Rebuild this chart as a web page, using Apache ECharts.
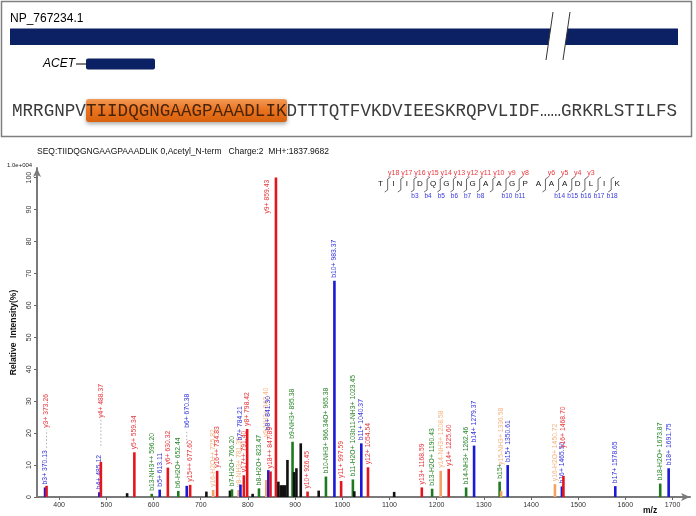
<!DOCTYPE html>
<html><head><meta charset="utf-8">
<script src="https://cdn.jsdelivr.net/npm/echarts@6/dist/echarts.min.js"></script>
<style>html,body{margin:0;padding:0;background:#fff}#c{width:696px;height:516px}</style>
</head><body><div id="c"></div>
<script>
// ---------- data ----------
const proteinId = 'NP_767234.1';
const seqBefore = 'MRRGNPV';
const seqPeptide = 'TIIDQGNGAAGPAAADLIK';
const seqAfter = 'DTTTQTFVKDVIEESKRQPVLIDF\u2026\u2026GRKRLSTILFS';
const seqHeader = 'SEQ:TIIDQGNGAAGPAAADLIK 0,Acetyl_N-term   Charge:2  MH+:1837.9682';
const yIonsSeen = [18,17,16,15,14,13,12,11,10,9,8,6,5,4,3];
const bIonsSeen = [3,4,5,6,7,8,10,11,14,15,16,17,18];

const xTicks = [400,500,600,700,800,900,1000,1100,1200,1300,1400,1500,1600,1700];
const yTicks = [0,10,20,30,40,50,60,70,80,90,100];

const peakMz = [370.13,373.26,485.12,488.37,544,559.34,596.20,613.11,630.32,652.44,670.38,677.60,712,
  726.3,734.83,762,766.20,780.4,784.21,791.40,798.42,810,823.47,839,843.3,847.89,859.43,
  864.6,869.6,874,879,883.8,894.6,897.9,902.8,912,926.45,950,965.38,983.37,997.59,1022.5,1025.5,
  1040.37,1054.54,1110,1168.59,1190.43,1208.58,1225.60,1262.46,1279.37,1333.5,1336.58,1350.61,
  1450.72,1465.50,1468.70,1578.65,1673.87,1691.75];
const peakInt = [3.0,3.5,1.5,11.0,1.2,14.0,1.0,2.3,9.2,1.9,3.5,3.8,1.7,
  2.2,8.2,2.0,2.4,2.2,3.9,6.8,21.3,1.0,2.7,5.3,8.4,8.0,100,
  4.8,3.7,3.7,3.7,11.6,17.3,7.8,9.0,16.8,1.7,2.0,6.4,67.7,5.0,5.5,1.8,
  16.8,9.3,1.6,3.0,2.6,8.2,8.8,3.0,16.1,4.8,1.9,10.0,
  4.0,3.3,6.6,3.4,4.2,9.0];
const peakType = ['b','y','b','y','u','y','g','b','y','g','b','y','u',
  'o','y','u','g','o','b','y','y','u','g','o','b','y','y',
  'u','u','u','u','u','g','u','u','u','y','u','g','b','y','g','u',
  'b','y','u','y','g','o','y','g','b','g','o','b',
  'o','b','y','b','g','b'];
const peakLabel = ['b3+ 370.13','y3+ 373.26','b4+ 485.12','y4+ 488.37','','y5+ 559.34','b13-NH3++ 596.20','b5+ 613.11','y6+ 630.32','b6-H2O+ 652.44','b6+ 670.38','y15++ 677.60','',
  'y16-H2O++ 725.82','y16++ 734.83','','b7-H2O+ 766.20','y8-NH3+ 781.39','b7+ 784.21','y17++ 791.40','y8+ 798.42','','b8-H2O+ 823.47','y9-NH3+ 842.40','b8+ 841.30','y18++ 847.89','y9+ 859.43',
  '','','','','','b9-NH3+ 895.38','','','','y10+ 926.45','','b10-NH3+ 966.34O+ 965.38','b10+ 983.37','y11+ 997.59','b11-H2O+ 103b11-NH3+ 1023.45','',
  'b11+ 1040.37','y12+ 1054.54','','y13+ 1168.59','b13-H2O+ 1190.43','y14-NH3+ 1208.58','y14+ 1225.60','b14-NH3+ 1262.46','b14+ 1279.37','b15+','y15-NH3+ 1336.58','b15+ 1350.61',
  'y16-H2O+ 1450.72','b16+ 1465.50','y16+ 1468.70','b17+ 1578.65','b18-H2O+ 1673.87','b18+ 1691.75'];

// ---------- styling / layout ----------
const barColor = {y:'#e3161d', b:'#1a1ad6', g:'#1f7a1f', o:'#f3a263', u:'#111111'};
const labColor = {y:'#e8373c', b:'#3535dc', g:'#2b862b', o:'#f5b583', u:'#111111'};
const labelLayout = {
  'y3+ 373.26': {lift:58, dots:20},
  'y4+ 488.37': {lift:44, dots:28},
  'b6+ 670.38': {lift:58, dots:16},
  'b7+ 784.21': {lift:44},
  'y9-NH3+ 842.40': {lift:43},
  'b8+ 841.30': {lift:40},
  'y9+ 859.43': {lift:-36, dx:-9},
  'y15-NH3+ 1336.58': {lift:26},
  'y16+ 1468.70': {lift:28}
};
const FONT = 'Arial, "Liberation Sans", sans-serif';

function renderPeak(params, api) {
  const i = api.value(2);
  const p0 = api.coord([api.value(0), 0]);
  const p1 = api.coord([api.value(0), api.value(1)]);
  const t = peakType[i];
  const kids = [{type:'rect', shape:{x:p0[0]-1.3, y:p1[1], width:2.6, height:p0[1]-p1[1]}, style:{fill:barColor[t]}}];
  const lab = peakLabel[i];
  if (lab) {
    const lay = labelLayout[lab] || {};
    const lift = lay.lift != null ? lay.lift : 3;
    const dx = lay.dx || 0;
    const ly = p1[1] - lift;
    if (lay.dots) kids.push({type:'line', shape:{x1:p0[0]+dx, y1:ly+lay.dots, x2:p0[0]+dx, y2:ly+2}, style:{stroke:'#9a9a9a', lineWidth:0.8, lineDash:[1.5,2]}});
    kids.push({type:'text', x:p0[0]+dx, y:ly, rotation:Math.PI/2,
      style:{text:lab, font:'6.8px ' + FONT, fill:labColor[t], align:'left', verticalAlign:'middle'}});
  }
  return {type:'group', children:kids};
}

// ---------- top panel & fragment map graphics ----------
const NAVY = '#0b2163';
const graphics = [
  {type:'rect', shape:{x:1.5, y:1.5, width:690, height:135}, style:{fill:'#fff', stroke:'#7f7f7f', lineWidth:1.5}},
  {type:'text', x:10, y:19, style:{text:proteinId, font:'12px ' + FONT, fill:'#000', verticalAlign:'middle'}},
  {type:'rect', shape:{x:10, y:28.5, width:668, height:16.5}, style:{fill:NAVY}},
  {type:'polygon', shape:{points:[[553,12],[570,12],[563,60],[546,60]]}, style:{fill:'#fff'}},
  {type:'line', shape:{x1:553, y1:12, x2:546, y2:60}, style:{stroke:'#333', lineWidth:1}},
  {type:'line', shape:{x1:570, y1:12, x2:563, y2:60}, style:{stroke:'#333', lineWidth:1}},
  {type:'text', x:75, y:64, style:{text:'ACET', font:'italic 12px ' + FONT, fill:'#000', align:'right', verticalAlign:'middle'}},
  {type:'line', shape:{x1:76, y1:64, x2:87, y2:64}, style:{stroke:'#000', lineWidth:1}},
  {type:'rect', shape:{x:86, y:58.5, width:69, height:11, r:2}, style:{fill:NAVY}},
  {type:'rect', shape:{x:86, y:99, width:201, height:23, r:3},
    style:{fill:new echarts.graphic.LinearGradient(0,0,0,1,[{offset:0,color:'#f39a55'},{offset:0.5,color:'#e8721e'},{offset:1,color:'#d9620f'}]),
      shadowBlur:4, shadowOffsetY:2, shadowColor:'rgba(0,0,0,0.35)'}},
  {type:'text', x:12, y:111, style:{
    text:'{n|' + seqBefore + '}{h|' + seqPeptide + '}{n|' + seqAfter + '}',
    verticalAlign:'middle',
    rich:{n:{font:'17.6px "Courier New", "Liberation Mono", monospace', fill:'#3c3c3c'},
          h:{font:'17.6px "Courier New", "Liberation Mono", monospace', fill:'#4a2408'}}}},
  {type:'text', x:37, y:152, style:{text:seqHeader, font:'8.5px ' + FONT, fill:'#111', verticalAlign:'middle'}},
  {type:'text', x:7, y:165, style:{text:'1.0e+004', font:'6px ' + FONT, fill:'#222', verticalAlign:'middle'}},
  {type:'text', x:643, y:511, style:{text:'m/z', font:'bold 8.5px ' + FONT, fill:'#111', verticalAlign:'middle'}}
];
// fragment map
const letters = seqPeptide.split('');
const L0 = 380.5, LS = 13.15;
letters.forEach((ch, i) => {
  graphics.push({type:'text', x:L0 + i*LS, y:184, style:{text:ch, font:'8px ' + FONT, fill:'#111', align:'center', verticalAlign:'middle'}});
});
for (let k = 1; k < letters.length; k++) {
  const hasY = yIonsSeen.includes(letters.length - k);
  const hasB = bIonsSeen.includes(k);
  if (!hasY && !hasB) continue;
  const mx = L0 + k*LS - 6;
  graphics.push({type:'polyline', shape:{points:[[mx+3,177],[mx,179],[mx,190],[mx-3,192]]}, style:{stroke:'#444', lineWidth:0.8, fill:null}});
  if (hasY) graphics.push({type:'text', x:mx+6, y:173, style:{text:'y' + (letters.length - k), font:'7px ' + FONT, fill:'#e8373c', align:'center', verticalAlign:'middle'}});
  if (hasB) graphics.push({type:'text', x:mx+1, y:196, style:{text:'b' + k, font:'6.5px ' + FONT, fill:'#3535dc', align:'center', verticalAlign:'middle'}});
}

// ---------- chart ----------
const chart = echarts.init(document.getElementById('c'), null, {renderer:'canvas'});
chart.setOption({
  animation:false,
  backgroundColor:'#fff',
  grid:{left:37, right:6, top:168, bottom:19, containLabel:false},
  xAxis:{type:'value', min:353, max:1737,
    axisLine:{show:true, onZero:false, lineStyle:{color:'#7a7a7a', width:2}, symbol:['none','arrow'], symbolSize:[6,9]},
    axisTick:{show:true, customValues:xTicks, length:3, lineStyle:{color:'#666'}},
    axisLabel:{customValues:xTicks, fontSize:7, color:'#333', margin:5, fontFamily:FONT, formatter:v => String(v)},
    splitLine:{show:false}},
  yAxis:{type:'value', min:0, max:103,
    name:'Relative  Intensity(%)', nameLocation:'middle', nameGap:17, nameRotate:90,
    nameTextStyle:{fontSize:8.5, fontWeight:'bold', color:'#111', fontFamily:FONT},
    axisLine:{show:true, lineStyle:{color:'#7a7a7a', width:2}, symbol:['none','arrow'], symbolSize:[6,9]},
    axisTick:{show:true, customValues:yTicks, length:3, lineStyle:{color:'#666'}},
    axisLabel:{customValues:yTicks, fontSize:7, color:'#333', rotate:90, margin:4, fontFamily:FONT, formatter:v => String(v)},
    splitLine:{show:false}},
  series:[{type:'custom', coordinateSystem:'cartesian2d', silent:true, clip:false,
    encode:{x:0, y:1},
    renderItem:renderPeak,
    data:peakMz.map((m, i) => [m, peakInt[i], i])}],
  graphic:graphics
});
</script></body></html>
